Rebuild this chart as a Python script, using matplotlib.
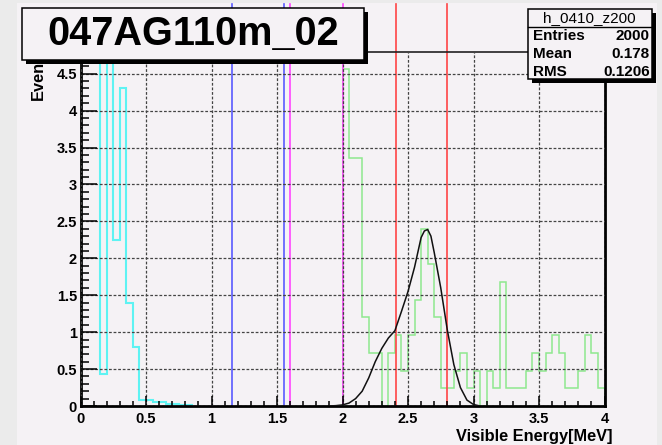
import numpy as np
import matplotlib
matplotlib.use("Agg")
from matplotlib import pyplot as plt
from matplotlib.patches import Rectangle
from matplotlib.lines import Line2D
from matplotlib.ticker import MultipleLocator, FormatStrFormatter

plt.rcParams['font.family'] = ['Liberation Sans', 'DejaVu Sans']
plt.rcParams['lines.scale_dashes'] = False

W, H = 662, 445
bin_width = 0.05

# h_0410_z200 contents, 0.05 MeV bins starting at 0
cyan_start = 0.0
cyan_vals = [9.5, 14.0, 16.0, 0.43, 7.5, 2.25, 4.3, 1.4, 0.8,
             0.08, 0.08, 0.06, 0.05, 0.03, 0.03, 0.02, 0.01]

# second spectrum, raw counts per 0.05 MeV bin from 2.0 MeV, drawn scaled
green_start = 2.0
green_scale = 0.24
green_counts = [19, 14, 14, 5, 3, 3, 0, 3, 4, 2,
                4, 6, 10, 8, 5, 1, 1, 2, 3, 1,
                2, 0, 2, 1, 7, 1, 1, 1, 2, 3,
                2, 3, 4, 3, 1, 1, 2, 4, 3, 1]

# peak fit
fit_x = [1.90, 1.95, 2.00, 2.05, 2.10, 2.15, 2.20, 2.25, 2.30, 2.35, 2.40,
         2.45, 2.50, 2.55, 2.60, 2.625, 2.65, 2.675, 2.70, 2.75, 2.80,
         2.85, 2.90, 2.95, 3.00, 3.05]
fit_y = [0.0, 0.005, 0.015, 0.04, 0.10, 0.20, 0.38, 0.60, 0.78, 0.92, 1.02,
         1.28, 1.55, 1.88, 2.28, 2.37, 2.39, 2.30, 2.08, 1.60, 1.03,
         0.56, 0.25, 0.08, 0.02, 0.0]

# energy window markers
blue_lines = [1.155, 1.553]
magenta_lines = [1.60, 2.0]
red_lines = [2.405, 2.80]
marker_top = 5.44

title = "047AG110m_02"
stat_name = "h_0410_z200"
stat_rows = [("Entries", "2000"), ("Mean", "0.178"), ("RMS", "0.1206")]

canvas = '#f5f2f5'
cyan = '#5ef3f3'
green = '#8fe88f'
blue = '#5a5aff'
magenta = '#ff45ff'
red = '#ff4545'


def fx(px):
    return px / W


def fy(py):
    return 1 - py / H


fig = plt.figure(figsize=(W / 100, H / 100), dpi=100, facecolor='#ebebeb')
fig.add_artist(Rectangle((fx(17), 0), fx(657) - fx(17), fy(3), transform=fig.transFigure,
                         facecolor=canvas, edgecolor='none', zorder=-10))

ax = fig.add_axes([fx(80.5), fy(406), (604.5 - 80.5) / W, (406 - 51.5) / H])
ax.set_facecolor(canvas)
ax.set_xlim(0, 4)
ax.set_ylim(0, 4.8)

cyan_edges = cyan_start + bin_width * np.arange(len(cyan_vals) + 1)
ax.stairs(cyan_vals, cyan_edges, baseline=0, color=cyan, lw=1.5, zorder=2)

green_edges = green_start + bin_width * np.arange(len(green_counts) + 1)
ax.stairs(np.array(green_counts) * green_scale, green_edges, baseline=0,
          color=green, lw=1.1, zorder=2)

ax.plot(fit_x, fit_y, color='#111111', lw=1.1, zorder=3)

for xs, c in ((blue_lines, blue), (magenta_lines, magenta), (red_lines, red)):
    for x in xs:
        ax.plot([x, x], [0, marker_top], color=c, lw=1.2, clip_on=False, zorder=2.2)

ax.xaxis.set_major_locator(MultipleLocator(0.5))
ax.xaxis.set_minor_locator(MultipleLocator(0.1))
ax.yaxis.set_major_locator(MultipleLocator(0.5))
ax.yaxis.set_minor_locator(MultipleLocator(0.1))
ax.xaxis.set_major_formatter(FormatStrFormatter('%g'))
ax.yaxis.set_major_formatter(FormatStrFormatter('%g'))
ax.tick_params(axis='both', which='both', direction='in', width=1.1, color='black',
               labelsize=10.5)
ax.tick_params(axis='x', which='major', length=7.2, pad=4)
ax.tick_params(axis='x', which='minor', length=3.6)
ax.tick_params(axis='y', which='major', length=11.5, pad=2.5)
ax.tick_params(axis='y', which='minor', length=5.8)
for lab in ax.get_xticklabels() + ax.get_yticklabels():
    lab.set_fontweight('bold')

ax.grid(True, which='major', color='#444444', lw=0.9, linestyle=(0, (2, 1.3)))
ax.set_axisbelow(False)

for side in ('left', 'bottom', 'right'):
    ax.spines[side].set_linewidth(2)
    ax.spines[side].set_color('black')
ax.spines['top'].set_linewidth(1.2)
ax.spines['top'].set_color('#222222')

fig.text(fx(612), fy(441), 'Visible Energy[MeV]', ha='right', va='baseline',
         fontsize=11.8, fontweight='bold')
fig.text(fx(43), fy(100), 'Events', rotation=90, rotation_mode='anchor',
         ha='left', va='baseline', fontsize=11.8, fontweight='bold', zorder=0.5)


def pave(x0, y0, x1, y1, shadow=4):
    fig.add_artist(Rectangle((fx(x0 + shadow), fy(y1 + shadow)), fx(x1 - x0), (y1 - y0) / H,
                             transform=fig.transFigure, facecolor='black',
                             edgecolor='none', zorder=2))
    fig.add_artist(Rectangle((fx(x0), fy(y1)), fx(x1 - x0), (y1 - y0) / H,
                             transform=fig.transFigure, facecolor=canvas,
                             edgecolor='black', lw=1.1, zorder=2.1))


# title pave
pave(22, 8.5, 364, 59.5)
fig.text(fx(193), fy(45.5), title, ha='center', va='baseline', fontsize=28.5,
         fontweight='bold', zorder=3)

# stats pave
pave(527.5, 8.5, 652, 79)
fig.add_artist(Line2D([fx(527.5), fx(652)], [fy(27.3), fy(27.3)], transform=fig.transFigure,
                      color='black', lw=1.0, zorder=2.5))
fig.text(fx(589.5), fy(22.5), stat_name, ha='center', va='baseline', fontsize=11, zorder=3)
for i, (name, val) in enumerate(stat_rows):
    base = 39.5 + 18 * i
    fig.text(fx(532.5), fy(base), name, ha='left', va='baseline', fontsize=11,
             fontweight='bold', zorder=3)
    fig.text(fx(649.5), fy(base), val, ha='right', va='baseline', fontsize=11,
             fontweight='bold', zorder=3)

fig.savefig('out.png', dpi=100, facecolor=fig.get_facecolor())
